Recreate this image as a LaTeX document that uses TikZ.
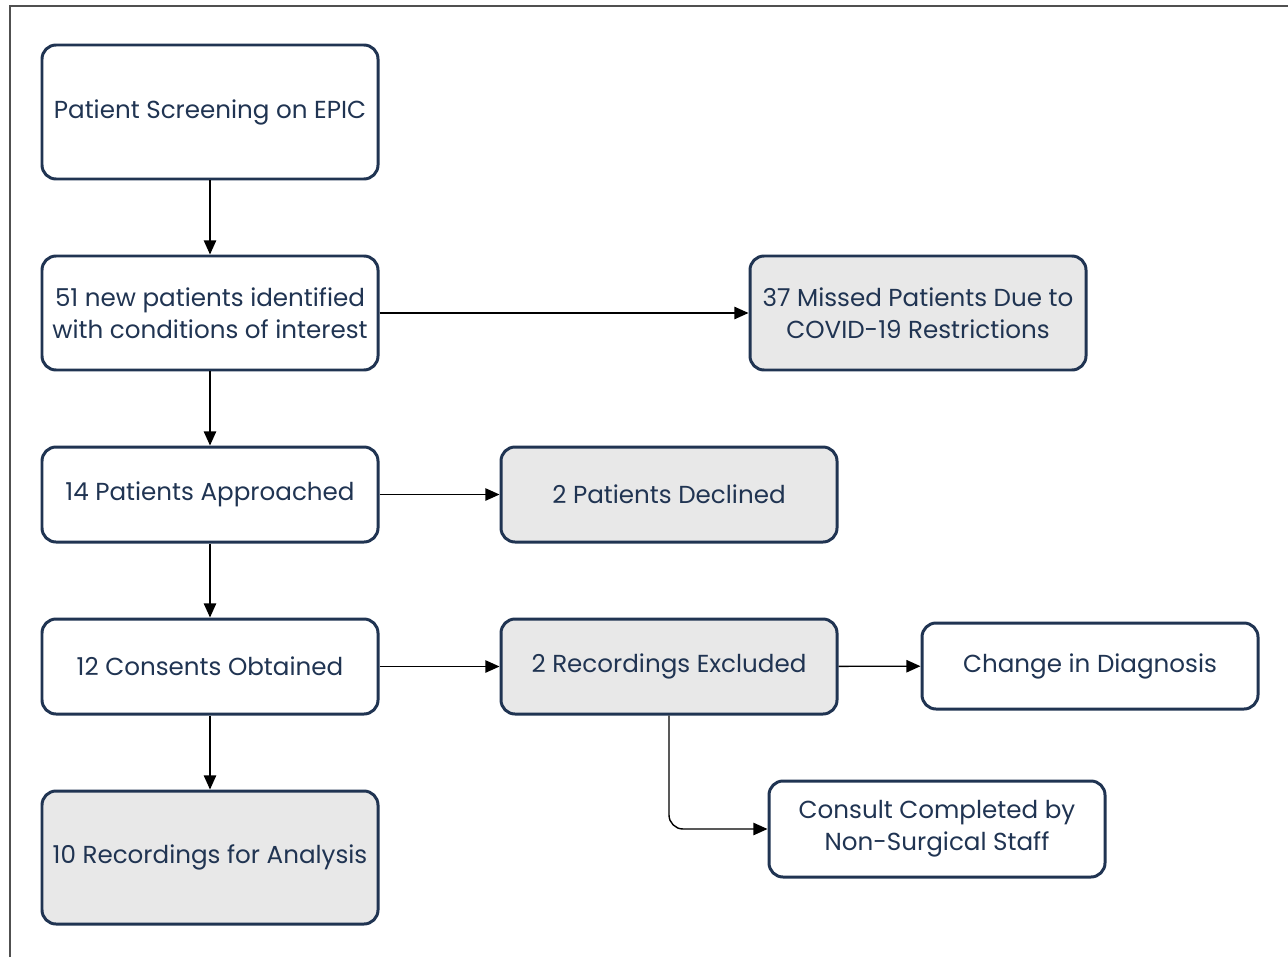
\documentclass[tikz,border=0pt]{standalone}
\usepackage{fontspec}
\setmainfont{Poppins}
\usepackage{tikz}
\usetikzlibrary{arrows.meta, positioning}
\definecolor{mynavy}{RGB}{32,52,82}
\definecolor{mygray}{RGB}{232,232,232}
\definecolor{myframe}{RGB}{80,80,80}
\tikzset{
  stage/.style={rectangle, draw=mynavy, fill=white, text=mynavy,
    minimum width=6.72cm, align=center, font=\fontsize{14}{18}\selectfont,
    rounded corners=8pt, line width=1.7pt},
  outbox/.style={stage, fill=mygray},
  arrow/.style={-{Triangle[length=8pt, width=7pt]}, line width=0.8pt, color=black}
}
\begin{document}
\begin{tikzpicture}
  \useasboundingbox (0,0) rectangle (25.76,-19.14);
  % Frame
  \draw[myframe, line width=0.7pt] (0.2,-19.14) -- (0.2,-0.12) -- (25.76,-0.12);

  % Main column
  \node[stage, minimum height=2.68cm] (screen) at (4.2,-2.24) {Patient Screening on EPIC};
  \node[stage, minimum height=2.28cm] (ident) at (4.2,-6.26) {51 new patients identified\\with conditions of interest};
  \node[stage, minimum height=1.9cm] (approach) at (4.2,-9.89) {14 Patients Approached};
  \node[stage, minimum height=1.9cm] (consent) at (4.2,-13.33) {12 Consents Obtained};
  \node[outbox, minimum height=2.66cm] (analysis) at (4.2,-17.15) {10 Recordings for Analysis};

  % Side branches
  \node[outbox, minimum height=2.28cm] (missed) at (18.36,-6.26) {37 Missed Patients Due to\\COVID-19 Restrictions};
  \node[outbox, minimum height=1.9cm] (declined) at (13.38,-9.89) {2 Patients Declined};
  \node[outbox, minimum height=1.9cm] (excluded) at (13.38,-13.33) {2 Recordings Excluded};
  \node[stage, minimum height=1.72cm] (diagnosis) at (21.8,-13.32) {Change in Diagnosis};
  \node[stage, minimum height=1.92cm] (consult) at (18.74,-16.58) {Consult Completed by\\Non-Surgical Staff};

  % Connectors
  \draw[arrow] (screen) -- (ident);
  \draw[arrow] (ident) -- (approach);
  \draw[arrow] (approach) -- (consent);
  \draw[arrow] (consent) -- (analysis);
  \draw[arrow] (ident) -- (missed);
  \draw[arrow] (approach) -- (declined);
  \draw[arrow] (consent) -- (excluded);
  \draw[arrow] (excluded) -- (diagnosis);
  \draw[arrow, rounded corners=8pt] (excluded.south) |- (consult.west);
\end{tikzpicture}
\end{document}
